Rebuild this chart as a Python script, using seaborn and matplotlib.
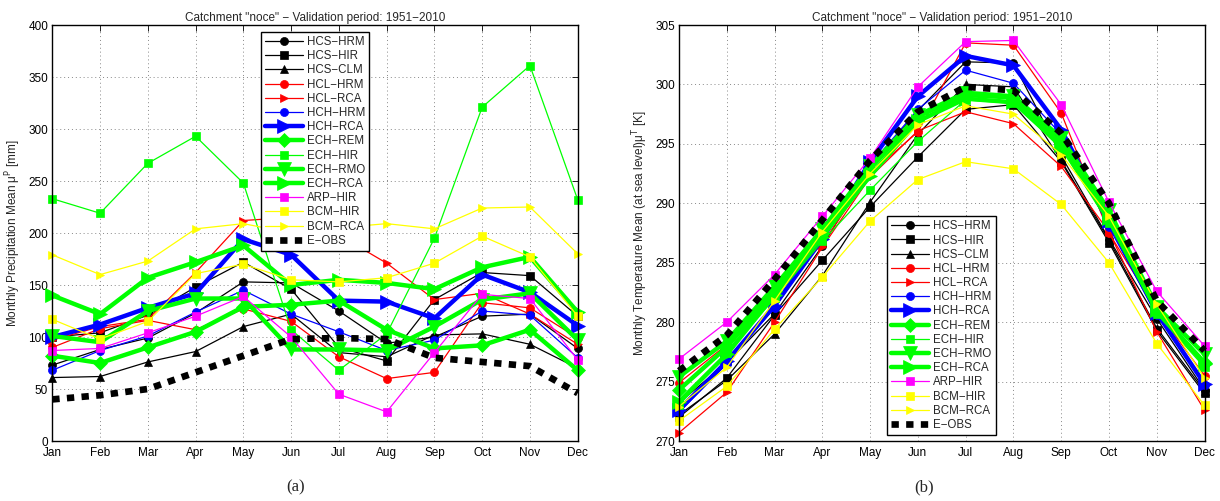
import numpy as np
import pandas as pd
import matplotlib
matplotlib.use("Agg")
import matplotlib.pyplot as plt
import seaborn as sns

# ---------------- data ----------------
months = ["Jan", "Feb", "Mar", "Apr", "May", "Jun", "Jul", "Aug", "Sep", "Oct", "Nov", "Dec"]
series_names = ["HCS-HRM", "HCS-HIR", "HCS-CLM", "HCL-HRM", "HCL-RCA", "HCH-HRM", "HCH-RCA",
                "ECH-REM", "ECH-HIR", "ECH-RMO", "ECH-RCA", "ARP-HIR", "BCM-HIR", "BCM-RCA", "E-OBS"]

# (a) monthly precipitation mean [mm]
p_hcs_hrm = [73, 88, 99, 123, 153, 152, 125, 94, 100, 120, 122, 89]
p_hcs_hir = [100, 104, 121, 148, 172, 146, 90, 77, 136, 162, 159, 120]
p_hcs_clm = [61, 62, 76, 86, 110, 122, 85, 81, 102, 103, 93, 70]
p_hcl_hrm = [90, 108, 116, 107, 127, 115, 81, 60, 66, 133, 128, 99]
p_hcl_rca = [97, 110, 117, 162, 212, 215, 198, 171, 136, 142, 122, 93]
p_hch_hrm = [68, 87, 101, 124, 145, 122, 105, 87, 97, 125, 121, 80]
p_hch_rca = [100, 112, 128, 142, 194, 179, 135, 134, 118, 160, 143, 111]
p_ech_rem = [82, 75, 90, 105, 129, 131, 135, 107, 89, 92, 107, 68]
p_ech_hir = [233, 219, 267, 293, 248, 107, 68, 103, 195, 321, 361, 232]
p_ech_rmo = [101, 95, 125, 137, 137, 88, 88, 87, 110, 136, 142, 97]
p_ech_rca = [140, 122, 157, 172, 188, 150, 155, 152, 146, 167, 177, 124]
p_arp_hir = [87, 89, 104, 120, 139, 100, 45, 28, 85, 141, 137, 78]
p_bcm_hir = [117, 98, 115, 161, 170, 155, 153, 157, 171, 197, 177, 120]
p_bcm_rca = [179, 160, 173, 204, 209, 200, 205, 209, 204, 224, 225, 180]
p_eobs = [40, 44, 50, 66, 82, 98, 99, 98, 80, 76, 72, 46]

# (b) monthly temperature mean at sea level [K]
t_hcs_hrm = [273.2, 276.6, 280.7, 286.4, 293.0, 297.8, 301.9, 301.8, 294.0, 287.0, 280.3, 274.3]
t_hcs_hir = [272.0, 275.3, 280.6, 285.2, 289.7, 293.9, 297.9, 298.3, 293.5, 286.7, 279.3, 274.0]
t_hcs_clm = [272.2, 275.1, 279.0, 283.9, 290.1, 295.8, 300.0, 299.8, 293.6, 286.9, 279.5, 274.2]
t_hcl_hrm = [274.9, 278.1, 282.4, 286.6, 292.5, 296.0, 303.5, 303.3, 297.6, 287.5, 281.0, 275.5]
t_hcl_rca = [270.7, 274.1, 280.0, 286.3, 292.2, 296.1, 297.7, 296.7, 293.1, 287.6, 279.2, 272.6]
t_hch_hrm = [272.4, 276.5, 281.2, 286.9, 293.2, 297.9, 301.2, 300.1, 295.8, 288.0, 280.6, 274.7]
t_hch_rca = [272.6, 276.7, 281.4, 287.0, 293.5, 299.0, 302.4, 301.6, 296.2, 288.5, 280.8, 274.8]
t_ech_rem = [274.3, 277.9, 282.6, 287.5, 292.9, 297.3, 299.1, 298.9, 295.0, 288.7, 281.0, 276.6]
t_ech_hir = [273.0, 277.4, 282.0, 286.8, 291.1, 295.2, 298.7, 298.4, 294.6, 288.3, 280.7, 276.2]
t_ech_rmo = [275.4, 278.4, 283.0, 287.8, 293.1, 297.4, 299.3, 299.0, 295.5, 289.4, 281.3, 277.3]
t_ech_rca = [273.3, 277.3, 282.3, 287.2, 292.3, 296.9, 298.8, 298.5, 294.9, 288.8, 281.0, 276.5]
t_arp_hir = [276.9, 280.0, 284.0, 288.9, 293.8, 299.8, 303.6, 303.7, 298.3, 290.1, 282.6, 278.0]
t_bcm_hir = [271.7, 274.6, 279.4, 283.8, 288.5, 292.0, 293.5, 292.9, 289.9, 285.0, 278.2, 273.0]
t_bcm_rca = [272.9, 276.2, 281.8, 287.6, 292.5, 296.6, 298.2, 297.5, 294.1, 288.9, 281.5, 275.3]
t_eobs = [275.9, 278.9, 283.6, 288.6, 293.6, 297.7, 299.8, 299.5, 295.9, 290.0, 281.8, 277.6]

precip = [p_hcs_hrm, p_hcs_hir, p_hcs_clm, p_hcl_hrm, p_hcl_rca, p_hch_hrm, p_hch_rca,
          p_ech_rem, p_ech_hir, p_ech_rmo, p_ech_rca, p_arp_hir, p_bcm_hir, p_bcm_rca, p_eobs]
temp = [t_hcs_hrm, t_hcs_hir, t_hcs_clm, t_hcl_hrm, t_hcl_rca, t_hch_hrm, t_hch_rca,
        t_ech_rem, t_ech_hir, t_ech_rmo, t_ech_rca, t_arp_hir, t_bcm_hir, t_bcm_rca, t_eobs]

# ---------------- styles ----------------
K, R, B, G, M, Y = "#000000", "#ff0000", "#0000ff", "#00ff00", "#ff00ff", "#ffff00"
styles = {
    "HCS-HRM": dict(color=K, marker="o", lw=0.9, ms=5.8),
    "HCS-HIR": dict(color=K, marker="s", lw=0.9, ms=5.5),
    "HCS-CLM": dict(color=K, marker="^", lw=0.9, ms=5.8),
    "HCL-HRM": dict(color=R, marker="o", lw=0.9, ms=5.8),
    "HCL-RCA": dict(color=R, marker=">", lw=0.9, ms=5.8),
    "HCH-HRM": dict(color=B, marker="o", lw=0.9, ms=5.8),
    "HCH-RCA": dict(color=B, marker=">", lw=3.2, ms=9.5),
    "ECH-REM": dict(color=G, marker="D", lw=3.2, ms=7.5),
    "ECH-HIR": dict(color=G, marker="s", lw=0.9, ms=5.5),
    "ECH-RMO": dict(color=G, marker="v", lw=3.2, ms=9.5),
    "ECH-RCA": dict(color=G, marker=">", lw=3.2, ms=9.5),
    "ARP-HIR": dict(color=M, marker="s", lw=0.9, ms=5.5),
    "BCM-HIR": dict(color=Y, marker="s", lw=0.9, ms=5.5),
    "BCM-RCA": dict(color=Y, marker=">", lw=0.9, ms=5.8),
}

sns.set_theme(style="white")
plt.rcParams["font.family"] = ["Liberation Sans", "DejaVu Sans"]
plt.rcParams["axes.unicode_minus"] = True

fig = plt.figure(figsize=(12.2, 5.01), dpi=100)
ax1 = fig.add_axes([52.3 / 1220, 60 / 501, 525.4 / 1220, 416 / 501])
ax2 = fig.add_axes([679 / 1220, 60 / 501, 525.5 / 1220, 416 / 501])

x = np.arange(len(months))
title = 'Catchment "noce" \u2212 Validation period: 1951\u22122010'


def draw(ax, table):
    for name, vals in zip(series_names, table):
        df = pd.DataFrame({"month": x, "value": vals})
        if name == "E-OBS":
            sns.lineplot(data=df, x="month", y="value", ax=ax, color=K, lw=4.8,
                         linestyle=(0, (1.1, 1.1)), label=name, marker=None, errorbar=None,
                         clip_on=False)
        else:
            st = styles[name]
            sns.lineplot(data=df, x="month", y="value", ax=ax, color=st["color"],
                         marker=st["marker"], lw=st["lw"], markersize=st["ms"],
                         markeredgecolor=st["color"], markerfacecolor=st["color"],
                         markeredgewidth=0.5, label=name, errorbar=None, clip_on=False)
    ax.set_xlim(0, 11)
    ax.set_xticks(x)
    ax.set_xticklabels(months)
    ax.set_xlabel("")
    ax.grid(True, color="#888888", linestyle=(0, (1, 3)), linewidth=0.7)
    ax.tick_params(direction="in", top=True, right=True, length=4, width=0.6,
                   labelsize=8.5, colors="black")
    ax.tick_params(axis="x", pad=4.5)
    ax.tick_params(axis="y", pad=3)
    for s in ax.spines.values():
        s.set_color("black")
        s.set_linewidth(1.0)
        s.set_zorder(5)
    ax.set_title(title, fontsize=8.5, pad=3)


draw(ax1, precip)
ax1.set_ylim(0, 400)
ax1.set_yticks(np.arange(0, 401, 50))
ax1.set_ylabel("Monthly Precipitation Mean \u03bc$^{\\mathrm{P}}$ [mm]", fontsize=8.5, labelpad=4)

draw(ax2, temp)
ax2.set_ylim(270, 305)
ax2.set_yticks(np.arange(270, 306, 5))
ax2.set_ylabel("Monthly Temperature Mean (at sea level)\u03bc$^{\\mathrm{T}}$ [K]", fontsize=8.5, labelpad=4)

leg_kw = dict(fontsize=8.3, frameon=True, fancybox=False, framealpha=1, edgecolor="black",
              handlelength=3.3, handletextpad=0.35, labelspacing=0.19, borderpad=0.35,
              borderaxespad=0)
h1, l1 = ax1.get_legend_handles_labels()
lg1 = ax1.legend(h1, l1, loc="upper left", bbox_to_anchor=(0.397, 0.983), **leg_kw)
h2, l2 = ax2.get_legend_handles_labels()
lg2 = ax2.legend(h2, l2, loc="lower left", bbox_to_anchor=(0.396, 0.0144), **leg_kw)
for lg in (lg1, lg2):
    lg.get_frame().set_linewidth(1.0)
    lg.set_zorder(10)
    for t in lg.get_texts():
        t.set_text(t.get_text().replace("-", "\u2212"))

fig.text(296 / 1220, 1 - 487 / 501, "(a)", ha="center", va="center", fontsize=12,
         family=["Liberation Serif", "DejaVu Serif"])
fig.text(924 / 1220, 1 - 487 / 501, "(b)", ha="center", va="center", fontsize=12,
         family=["Liberation Serif", "DejaVu Serif"])

fig.savefig("out.png", dpi=100)
